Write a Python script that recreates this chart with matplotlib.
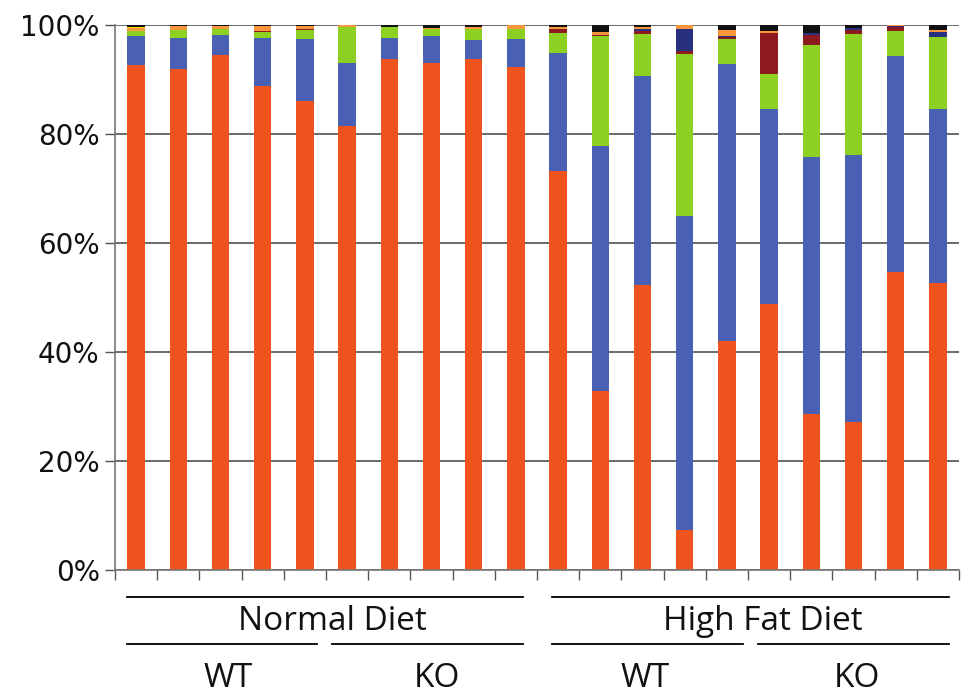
import matplotlib.pyplot as plt
import numpy as np

# relative abundance (%) per sample, one list per stacked layer (bottom -> top)
layer1 = [92.7, 92.0, 94.5, 88.9, 86.1, 81.5, 93.8, 93.1, 93.8, 92.3,
          73.3, 32.9, 52.3, 7.4, 42.1, 48.9, 28.7, 27.2, 54.7, 52.7]
layer2 = [5.3, 5.7, 3.7, 8.8, 11.4, 11.6, 3.9, 4.9, 3.5, 5.2,
          21.6, 45.0, 38.4, 57.6, 50.8, 35.8, 47.1, 49.0, 39.7, 31.9]
layer3 = [0.9, 1.5, 1.1, 1.1, 1.7, 6.6, 2.0, 1.3, 2.0, 1.8,
          3.7, 20.2, 7.7, 29.7, 4.6, 6.4, 20.6, 22.2, 4.6, 13.3]
layer4 = [0.0, 0.0, 0.0, 0.2, 0.2, 0.0, 0.0, 0.0, 0.0, 0.0,
          0.7, 0.2, 0.6, 0.6, 0.4, 7.5, 1.9, 0.7, 0.7, 0.0]
layer5 = [0.0, 0.0, 0.0, 0.0, 0.0, 0.0, 0.0, 0.0, 0.0, 0.0,
          0.0, 0.0, 0.4, 4.1, 0.2, 0.0, 0.2, 0.4, 0.1, 0.9]
layer6 = [0.6, 0.6, 0.5, 0.8, 0.5, 0.3, 0.0, 0.2, 0.3, 0.7,
          0.4, 0.4, 0.3, 0.6, 1.1, 0.3, 0.0, 0.0, 0.2, 0.4]
layer7 = [0.2, 0.0, 0.0, 0.0, 0.0, 0.0, 0.0, 0.0, 0.0, 0.0,
          0.0, 0.0, 0.0, 0.0, 0.0, 0.0, 0.0, 0.0, 0.0, 0.0]
layer8 = [0.3, 0.2, 0.2, 0.2, 0.1, 0.0, 0.3, 0.5, 0.4, 0.0,
          0.3, 1.3, 0.3, 0.0, 0.8, 1.1, 1.5, 0.5, 0.0, 0.8]

y_ticks = [0, 20, 40, 60, 80, 100]
diet_labels = ['Normal Diet', 'High Fat Diet']
geno_labels = ['WT', 'KO', 'WT', 'KO']

layers = [layer1, layer2, layer3, layer4, layer5, layer6, layer7, layer8]
colors = ['#F0541E', '#4A60B5', '#8CD022', '#8C1A1E',
          '#283080', '#F7963A', '#FFE000', '#111111']

fig = plt.figure(figsize=(9.61, 6.94), dpi=100)
ax = fig.add_axes([115/961, 123.7/694, 844/961, 545/694])

x = np.arange(len(layer1))
bottom = np.zeros(len(x))
for vals, c in zip(layers, colors):
    ax.bar(x, vals, 0.41, bottom=bottom, color=c, linewidth=0, zorder=2)
    bottom += np.array(vals)

ax.set_xlim(-0.5, 19.5)
ax.set_ylim(0, 100)
ax.set_yticks(y_ticks)
ax.set_yticklabels([f'{t}%' for t in y_ticks], fontsize=20,
                   family='DejaVu Sans', color='#111111')
ax.yaxis.grid(True, color='#444444', linewidth=1.1)
ax.set_axisbelow(True)

# tick marks between samples
ax.set_xticks(np.arange(-0.5, 20, 1))
ax.set_xticklabels([])
ax.tick_params(axis='x', direction='out', length=7, width=1, color='#555555')
ax.tick_params(axis='y', direction='out', length=7, width=1, color='#555555', pad=4)

for s in ['top', 'right']:
    ax.spines[s].set_visible(False)
for s in ['left', 'bottom']:
    ax.spines[s].set_color('#777777')
    ax.spines[s].set_linewidth(1.2)

# group labels under the axis
lab_font = dict(fontsize=24, family='Open Sans', ha='center', va='center', color='#111111')
kw = dict(color='black', linewidth=1.3, clip_on=False, transform=ax.get_xaxis_transform())
for x0, x1 in [(-0.22, 9.17), (9.86, 19.26)]:
    ax.plot([x0, x1], [-0.049, -0.049], **kw)
for x0, x1 in [(-0.22, 4.29), (4.64, 9.17), (9.86, 14.38), (14.74, 19.26)]:
    ax.plot([x0, x1], [-0.135, -0.135], **kw)
for xc, t in zip([4.64, 14.86], diet_labels):
    ax.text(xc, -0.094, t, transform=ax.get_xaxis_transform(), **lab_font)
for xc, t in zip([2.18, 7.13, 12.06, 17.08], geno_labels):
    ax.text(xc, -0.198, t, transform=ax.get_xaxis_transform(), **lab_font)

fig.savefig('out.png', dpi=100)
